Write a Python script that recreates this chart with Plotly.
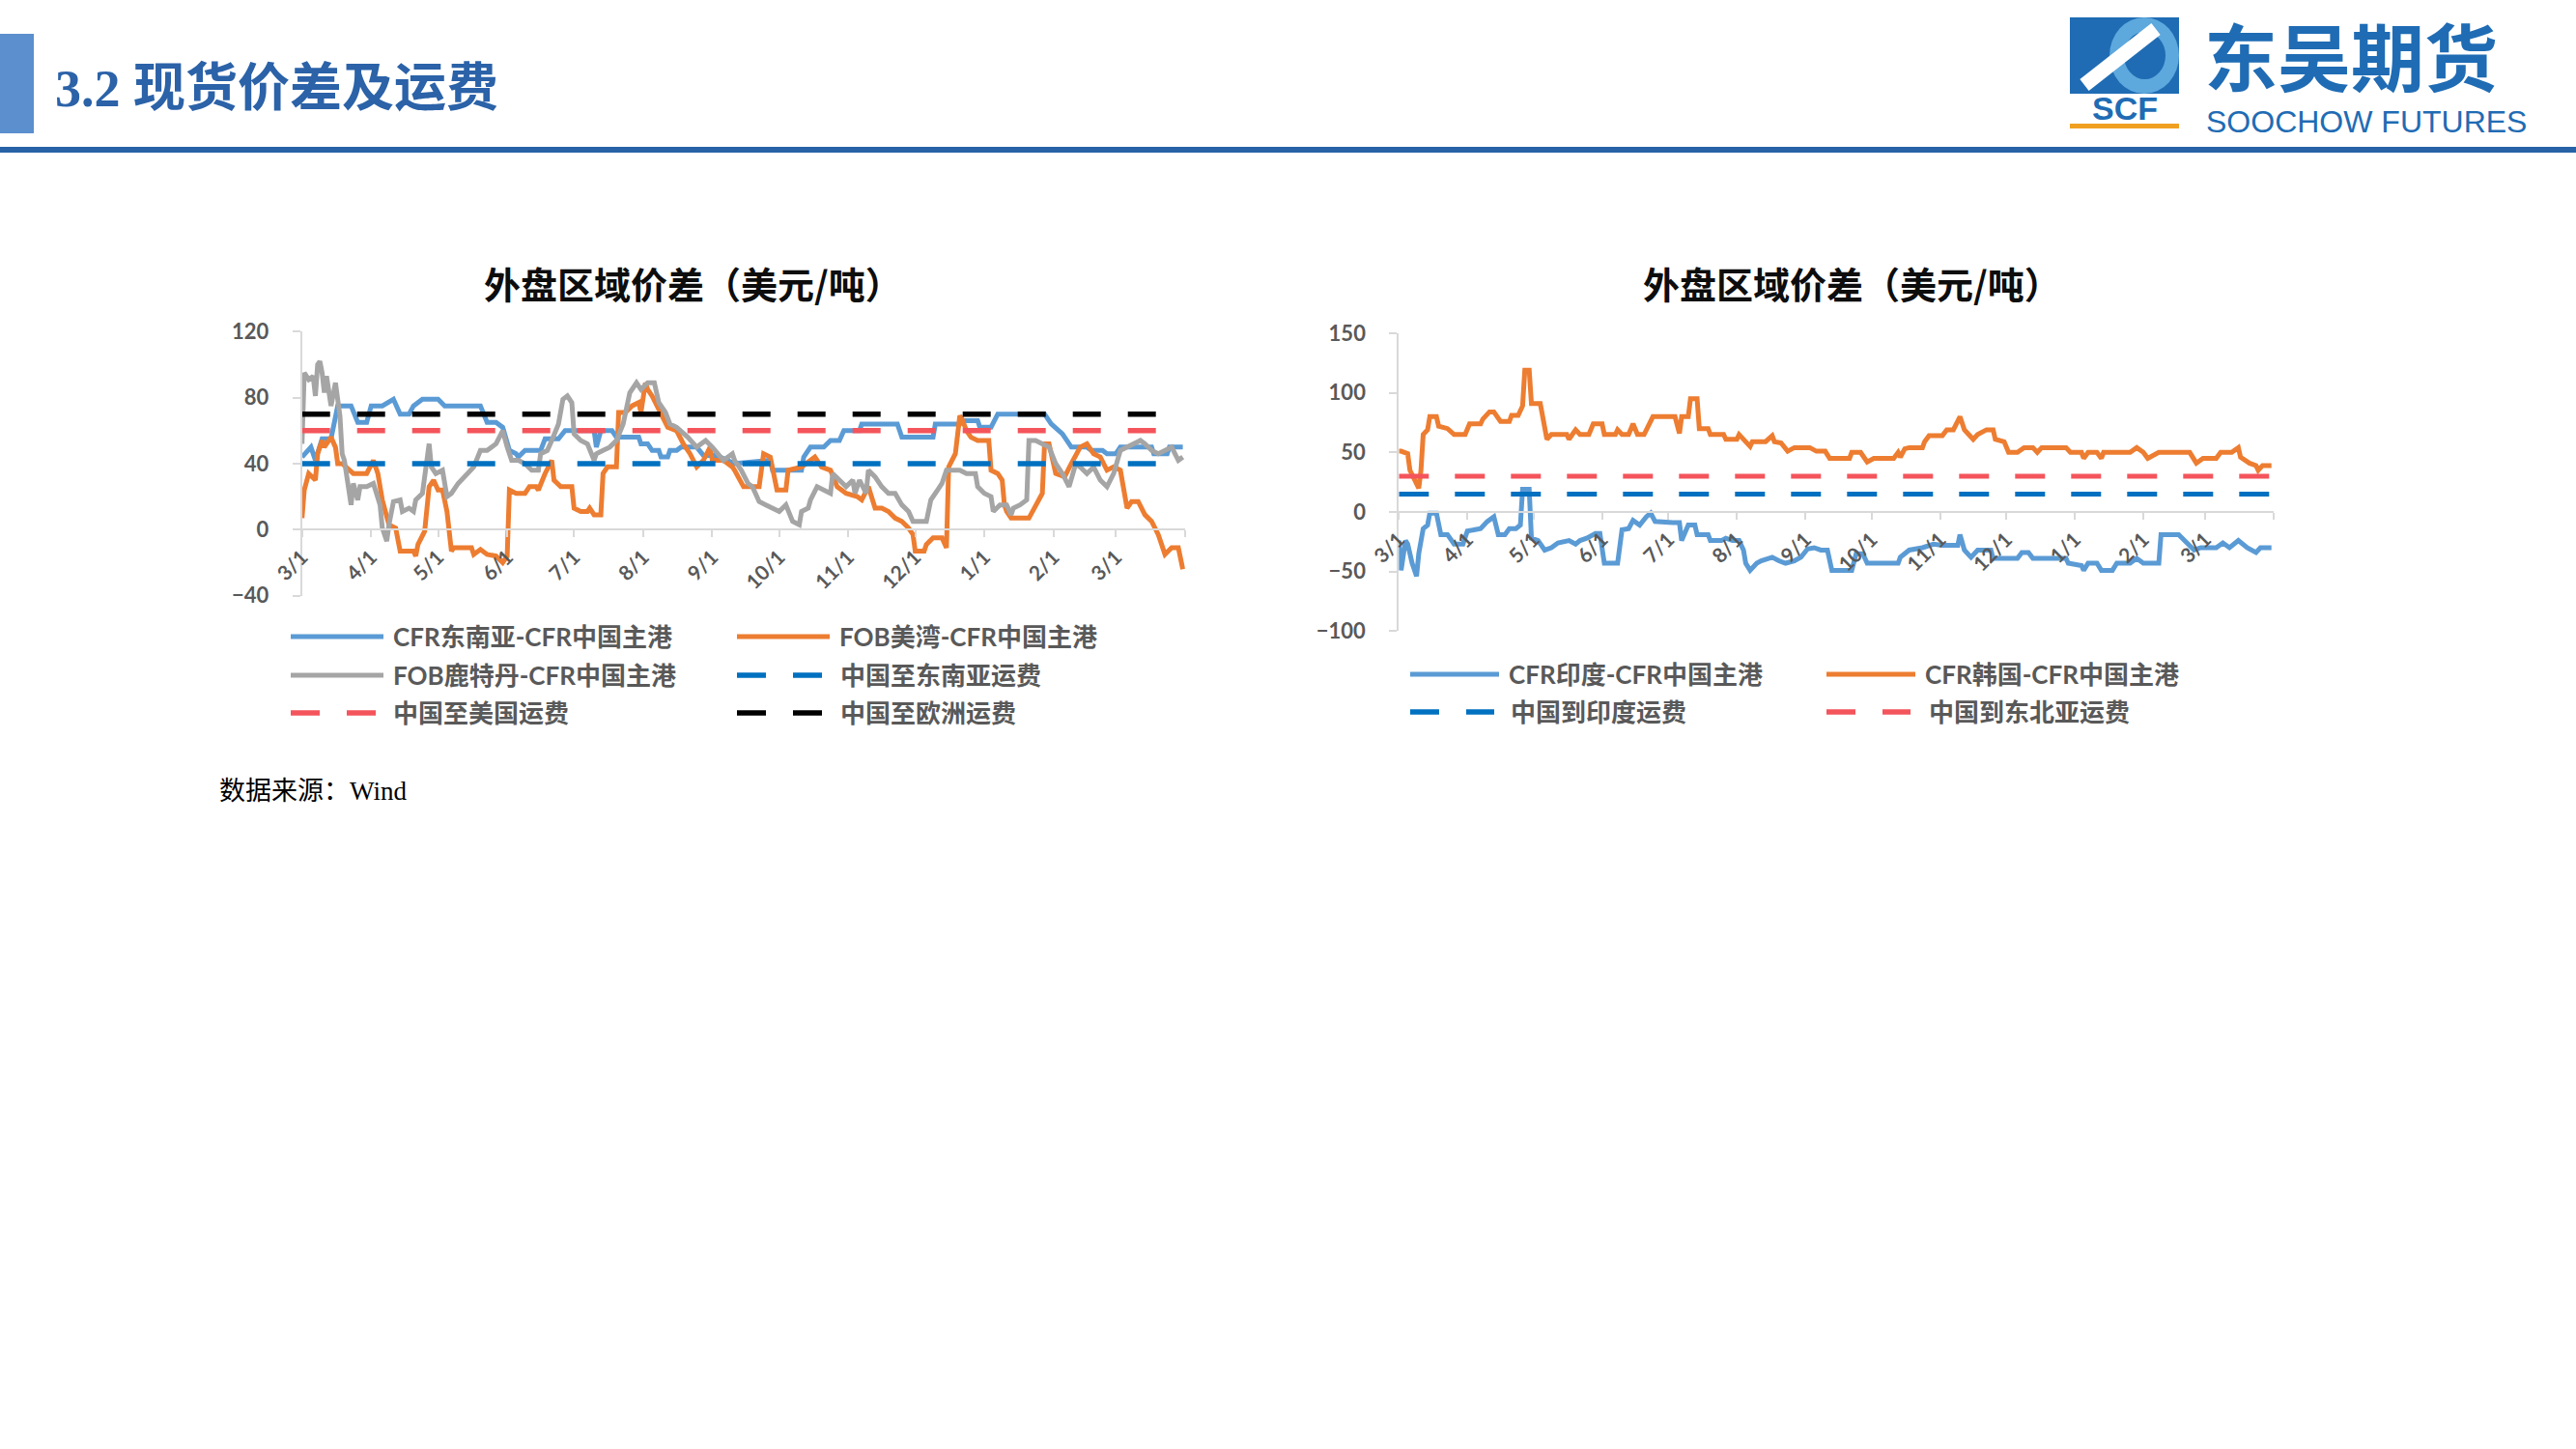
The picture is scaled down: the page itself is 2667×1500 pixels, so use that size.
import plotly.graph_objects as go
import pandas as pd

W, H = 2667, 1500

# ---------------- data ----------------
BASE_DATE = "2022-03-01"
RANGE_END = "2023-04-01"
TICK_DATES = ["2022-03-01", "2022-04-01", "2022-05-01", "2022-06-01", "2022-07-01",
              "2022-08-01", "2022-09-01", "2022-10-01", "2022-11-01", "2022-12-01",
              "2023-01-01", "2023-02-01", "2023-03-01", "2023-04-01"]
TICK_LABELS = ["3/1", "4/1", "5/1", "6/1", "7/1", "8/1", "9/1", "10/1", "11/1",
               "12/1", "1/1", "2/1", "3/1", ""]

# left chart (days since 2022-03-01)
sea_days = [0, 4, 6, 9, 13, 16, 22, 25, 29, 31, 36, 41, 44, 48, 50, 54, 61, 64, 80, 83, 87, 90,
            93, 96, 97, 100, 107, 109, 115, 118, 131, 132, 134, 139, 141, 151, 152, 155, 157,
            160, 161, 164, 165, 168, 170, 177, 180, 186, 194, 210, 211, 224, 225, 228, 234,
            237, 241, 243, 250, 251, 267, 269, 283, 284, 295, 296, 303, 304, 309, 312, 333,
            336, 341, 345, 352, 354, 359, 361, 365, 367, 381, 382, 388, 389, 395]
sea_vals = [44, 50, 42, 55, 55, 75, 75, 65, 65, 75, 75, 79, 70, 70, 75, 79, 79, 75, 75, 65, 65, 62,
            48, 46, 44, 48, 48, 55, 55, 60, 60, 50, 60, 60, 56, 56, 52, 52, 48,
            48, 44, 44, 48, 48, 50, 50, 45, 45, 40, 42, 36, 36, 44, 50, 50,
            54, 54, 60, 60, 64, 64, 56, 56, 64, 64, 66, 66, 62, 62, 70, 70,
            64, 58, 50, 50, 48, 48, 46, 46, 50, 50, 46, 46, 50, 50]

usg_days = [0, 1, 3, 6, 7, 9, 10, 13, 15, 16, 18, 23, 29, 32, 34, 36, 39, 42, 44, 50, 51, 52, 55,
            57, 59, 61, 63, 65, 67, 68, 76, 77, 80, 83, 87, 90, 92, 93, 96, 100, 102, 105, 106,
            109, 112, 113, 116, 121, 122, 125, 128, 129, 131, 134, 135, 137, 141, 142, 145, 148,
            151, 152, 154, 155, 157, 161, 164, 168, 171, 174, 177, 180, 183, 184, 189, 193, 194,
            198, 205, 207, 210, 213, 217, 218, 224, 228, 230, 233, 237, 240, 244, 249, 251, 254,
            257, 260, 263, 266, 269, 272, 274, 275, 279, 280, 283, 287, 289, 290, 292, 293, 295,
            296, 298, 300, 303, 308, 309, 312, 314, 315, 316, 318, 326, 329, 332, 333, 335, 338,
            342, 345, 349, 352, 355, 358, 361, 364, 367, 370, 372, 375, 378, 381, 384, 387, 390,
            393, 395]
usg_vals = [7, 24, 34, 30, 46, 54, 50, 56, 50, 40, 40, 34, 34, 42, 34, 18, 3, 1, -13, -13, -16, -9, -1,
            26, 30, 24, 24, 11, -13, -11, -11, -15, -12, -15, -16, -20, -16, 24, 22, 22, 26, 26, 24,
            34, 42, 30, 26, 26, 13, 11, 11, 13, 9, 9, 34, 38, 38, 71, 71, 75,
            77, 71, 89, 85, 81, 71, 62, 60, 52, 46, 38, 42, 50, 42, 42, 38, 36,
            26, 26, 46, 44, 24, 24, 36, 38, 42, 44, 38, 36, 26, 22, 20, 18, 26,
            13, 13, 11, 7, 5, 1, -3, -13, -13, -9, -5, -5, -11, 38, 44, 46, 69,
            67, 60, 56, 54, 54, 36, 34, 30, 15, 11, 7, 7, 15, 22, 52, 52, 34,
            32, 40, 50, 52, 46, 44, 36, 38, 36, 13, 17, 17, 9, 5, -3, -15, -11,
            -11, -24]

rtm_days = [0, 1, 3, 5, 6, 7, 8, 9, 10, 11, 13, 15, 17, 18, 19, 21, 22, 23, 25, 26, 29, 32, 35, 36,
            38, 39, 41, 44, 45, 48, 50, 51, 54, 57, 58, 60, 63, 65, 67, 70, 73, 77, 80, 83, 87, 90,
            92, 94, 97, 100, 103, 106, 107, 110, 112, 115, 117, 119, 121, 122, 125, 128, 131, 132,
            135, 138, 141, 144, 147, 150, 152, 155, 158, 160, 163, 165, 168, 173, 177, 181, 184,
            189, 193, 194, 197, 200, 202, 205, 208, 211, 214, 217, 220, 223, 224, 227, 228, 231,
            234, 237, 238, 241, 244, 247, 248, 250, 253, 254, 257, 260, 263, 266, 269, 272, 274,
            280, 282, 285, 287, 289, 295, 298, 302, 303, 306, 309, 310, 313, 316, 318, 319, 322,
            325, 326, 329, 332, 335, 338, 341, 344, 347, 349, 352, 355, 358, 361, 364, 367, 370,
            376, 378, 381, 384, 387, 390, 393, 395]
rtm_vals = [52, 95, 91, 93, 81, 100, 102, 95, 83, 93, 75, 89, 69, 46, 42, 24, 15, 28, 18, 26, 26, 28, 15, 1,
            -7, 3, 17, 18, 11, 13, 11, 18, 22, 52, 38, 34, 36, 20, 22, 28, 32, 38, 48, 48, 52, 60,
            50, 42, 42, 40, 36, 36, 46, 48, 54, 64, 79, 81, 77, 58, 54, 52, 42, 46,
            48, 50, 54, 64, 83, 89, 85, 89, 89, 77, 71, 64, 62, 56, 50, 54, 50,
            42, 46, 42, 36, 28, 26, 17, 15, 13, 11, 15, 5, 3, 11, 13, 18, 26,
            24, 22, 34, 30, 26, 30, 22, 30, 22, 36, 32, 26, 22, 22, 15, 11, 5,
            5, 18, 24, 28, 36, 36, 34, 34, 26, 22, 20, 11, 15, 15, 9, 13, 15,
            18, 54, 54, 52, 50, 40, 34, 26, 40, 38, 34, 38, 30, 26, 34, 48, 50,
            54, 52, 48, 46, 48, 50, 42, 44]

FREIGHT_DAYS = [0, 395]
freight_sea = [40, 40]
freight_us = [60, 60]
freight_eu = [70, 70]

# right chart
ind_days = [0, 1, 3, 4, 6, 8, 9, 11, 13, 14, 17, 19, 22, 25, 29, 31, 37, 40, 43, 45, 48, 50, 53, 55,
            56, 59, 60, 63, 66, 69, 72, 77, 80, 82, 85, 89, 91, 93, 99, 101, 104, 106, 109, 112,
            114, 116, 124, 127, 128, 131, 134, 135, 140, 141, 146, 148, 151, 154, 156, 157, 159,
            162, 164, 169, 172, 175, 179, 182, 185, 188, 191, 194, 196, 205, 207, 210, 212, 226,
            227, 231, 237, 242, 246, 253, 254, 256, 259, 262, 268, 269, 280, 282, 285, 287, 302,
            303, 309, 310, 312, 316, 318, 323, 325, 331, 334, 337, 344, 345, 353, 356, 360, 363,
            370, 373, 376, 380, 384, 388, 390, 395]
ind_vals = [-24, -49, -24, -27, -43, -54, -35, -14, -11, -1, -1, -19, -19, -27, -27, -16, -14, -8, -4, -19, -19, -14, -14, -11,
            19, 19, -22, -24, -32, -30, -26, -24, -27, -24, -22, -18, -18, -43, -43, -15, -14, -7, -11, -4,
            -1, -8, -9, -9, -24, -11, -11, -19, -19, -24, -24, -22, -24, -24, -32, -43, -49,
            -43, -41, -38, -41, -43, -41, -38, -31, -30, -32, -32, -49, -49, -35, -35, -43, -43,
            -38, -32, -30, -27, -28, -28, -19, -32, -38, -32, -32, -39, -39, -34, -34, -39, -39,
            -43, -45, -49, -43, -43, -49, -49, -43, -43, -39, -43, -43, -19, -19, -24, -32, -30,
            -30, -26, -30, -24, -30, -34, -30, -30]

kor_days = [0, 1, 4, 5, 9, 10, 11, 13, 14, 17, 18, 22, 25, 30, 32, 37, 38, 41, 43, 46, 50, 51, 54, 56,
            57, 59, 60, 64, 67, 69, 76, 77, 80, 82, 86, 88, 92, 93, 98, 99, 101, 104, 106, 108,
            111, 115, 125, 127, 128, 131, 132, 135, 136, 140, 141, 147, 148, 153, 154, 156, 159,
            160, 166, 169, 170, 173, 176, 179, 186, 189, 193, 195, 204, 205, 209, 212, 215, 224,
            226, 227, 229, 231, 237, 238, 240, 246, 248, 251, 254, 256, 258, 260, 262, 266, 269,
            270, 274, 276, 280, 283, 287, 289, 291, 302, 304, 309, 310, 312, 316, 318, 319, 331,
            334, 337, 339, 344, 358, 361, 364, 370, 372, 377, 380, 381, 385, 388, 389, 391, 395]
kor_vals = [51, 51, 49, 35, 20, 35, 65, 69, 80, 80, 72, 70, 65, 65, 74, 74, 78, 84, 84, 76, 76, 81, 81, 89,
            119, 119, 91, 91, 61, 65, 65, 61, 69, 65, 65, 74, 74, 65, 65, 69, 65, 65, 74, 65,
            65, 80, 80, 66, 80, 80, 95, 95, 70, 70, 65, 65, 61, 61, 65, 61, 55,
            59, 59, 64, 59, 58, 51, 54, 54, 51, 51, 45, 45, 50, 50, 42, 45, 45,
            50, 46, 53, 54, 54, 59, 64, 64, 69, 69, 80, 69, 65, 61, 65, 69, 69,
            61, 59, 50, 50, 54, 54, 50, 54, 54, 50, 50, 45, 50, 50, 45, 50, 50,
            54, 50, 45, 50, 50, 41, 45, 45, 50, 50, 54, 46, 41, 39, 35, 39, 39]

freight_ind = [15, 15]
freight_nea = [30, 30]

# ---------------- helpers ----------------
base = pd.Timestamp(BASE_DATE)


def to_dates(days):
    return base + pd.to_timedelta(days, unit="D")


def fx(px):
    return px / W


def fy(py):
    return 1 - py / H


LATIN_CJK = "Lato, 'Noto Sans CJK SC', sans-serif"
GRAY_TXT = "#595959"
AX_GRAY = "#D9D9D9"

BLUE = "#5B9BD5"
ORANGE = "#ED7D31"
GRAY = "#A5A5A5"
DBLUE = "#0070C0"
RED = "#F4545B"
BLACK = "#000000"

fig = go.Figure()

left_series = [
    (sea_days, sea_vals, BLUE, None, 5),
    (usg_days, usg_vals, ORANGE, None, 5),
    (rtm_days, rtm_vals, GRAY, None, 5),
    (FREIGHT_DAYS, freight_sea, DBLUE, "29px,28px", 5.5),
    (FREIGHT_DAYS, freight_us, RED, "29px,28px", 5.5),
    (FREIGHT_DAYS, freight_eu, BLACK, "29px,28px", 5.5),
]
for d, v, c, dash, w in left_series:
    fig.add_trace(go.Scatter(x=to_dates(d), y=v, mode="lines",
                             line=dict(color=c, width=w, dash=dash),
                             xaxis="x", yaxis="y", showlegend=False, hoverinfo="skip"))

right_series = [
    (ind_days, ind_vals, BLUE, None, 5),
    (kor_days, kor_vals, ORANGE, None, 5),
    (FREIGHT_DAYS, freight_ind, DBLUE, "31px,27px", 5),
    (FREIGHT_DAYS, freight_nea, RED, "31px,27px", 5),
]
for d, v, c, dash, w in right_series:
    fig.add_trace(go.Scatter(x=to_dates(d), y=v, mode="lines",
                             line=dict(color=c, width=w, dash=dash),
                             xaxis="x2", yaxis="y2", showlegend=False, hoverinfo="skip"))

# axes geometry (pixels)
L_X0, L_X1 = 312.7, 1226.9
L_Y0, L_Y1 = 343.3, 616.6   # top (120), bottom (-40)
R_X0, R_X1 = 1448.3, 2354.0
R_Y0, R_Y1 = 345.0, 653.3   # top (150), bottom (-100)

L_RANGE = [-40, 120]
R_RANGE = [-100, 150]


def zero_pos(y0, y1, rng):
    dom0, dom1 = fy(y1), fy(y0)
    return dom0 + (dom1 - dom0) * (0 - rng[0]) / (rng[1] - rng[0])


tickfont = dict(family=LATIN_CJK, size=21, color=GRAY_TXT, weight="bold")

xcommon = dict(type="date", range=[BASE_DATE, RANGE_END], anchor="free", automargin=False,
               showline=True, linecolor=AX_GRAY, linewidth=2,
               ticks="outside", ticklen=7, tickwidth=2, tickcolor=AX_GRAY,
               tickvals=TICK_DATES, ticktext=TICK_LABELS, tickangle=-45,
               tickfont=tickfont, showgrid=False, zeroline=False, fixedrange=True)
ycommon = dict(showline=True, linecolor=AX_GRAY, linewidth=2, automargin=False,
               ticks="outside", ticklen=8, tickwidth=2, tickcolor=AX_GRAY,
               tickfont=dict(family=LATIN_CJK, size=22, color=GRAY_TXT, weight="bold"),
               showgrid=False, zeroline=False, ticklabelstandoff=20, fixedrange=True)

fig.update_layout(
    width=W, height=H, autosize=False,
    margin=dict(l=0, r=0, t=0, b=0, pad=0, autoexpand=False),
    paper_bgcolor="white", plot_bgcolor="rgba(0,0,0,0)",
    showlegend=False,
    xaxis=dict(domain=[fx(L_X0), fx(L_X1)], position=zero_pos(L_Y0, L_Y1, L_RANGE), **xcommon),
    yaxis=dict(domain=[fy(L_Y1), fy(L_Y0)], range=L_RANGE,
               tickvals=[-40, 0, 40, 80, 120], anchor="x", **ycommon),
    xaxis2=dict(domain=[fx(R_X0), fx(R_X1)], position=zero_pos(R_Y0, R_Y1, R_RANGE), **xcommon),
    yaxis2=dict(domain=[fy(R_Y1), fy(R_Y0)], range=R_RANGE,
                tickvals=[-100, -50, 0, 50, 100, 150], anchor="x2", **ycommon),
)

shapes = []
annotations = []


def rect(x0, y0, x1, y1, color):
    shapes.append(dict(type="rect", xref="paper", yref="paper",
                       x0=fx(x0), x1=fx(x1), y0=fy(y1), y1=fy(y0),
                       fillcolor=color, line=dict(width=0), layer="above"))


def seg(x0, y0, x1, y1, color, width, dash="solid"):
    shapes.append(dict(type="line", xref="paper", yref="paper",
                       x0=fx(x0), x1=fx(x1), y0=fy(y0), y1=fy(y1),
                       line=dict(color=color, width=width, dash=dash), layer="above"))


def ellipse(x0, y0, x1, y1, color):
    shapes.append(dict(type="circle", xref="paper", yref="paper",
                       x0=fx(x0), x1=fx(x1), y0=fy(y1), y1=fy(y0),
                       fillcolor=color, line=dict(width=0), layer="above"))


def text(x, y, s, size, color, family, weight="normal", xanchor="left", pad=1):
    annotations.append(dict(xref="paper", yref="paper", x=fx(x), y=fy(y), text=s,
                            showarrow=False, xanchor=xanchor, yanchor="middle", borderpad=pad,
                            font=dict(size=size, color=color, family=family, weight=weight)))


# ---------------- header ----------------
rect(0, 35, 35, 138, "#5B8FCE")
text(55, 92, "3.2 现货价差及运费", 54, "#2B62A8", "'Liberation Serif', 'Noto Sans CJK SC', serif", "bold")
rect(0, 152, W, 158, "#2862A6")

# logo
LOGO_BLUE = "#1F6CB4"
rect(2143, 18, 2256, 97, LOGO_BLUE)
ellipse(2184, 18, 2256, 97, "#5DA8DD")
ellipse(2199, 33, 2242, 82, LOGO_BLUE)
seg(2158, 88, 2232, 30, "white", 15)
rect(2143, 128, 2256, 133, "#F0A020")
text(2199.5, 112, "SCF", 34, LOGO_BLUE, "'Liberation Sans', Arial, sans-serif", "bold", "center", 0)
text(2281, 56, "东吴期货", 76, LOGO_BLUE, "'Noto Sans CJK SC', sans-serif", "bold", "left", 0)
text(2283, 126, "SOOCHOW FUTURES", 32, LOGO_BLUE, "'Liberation Sans', Arial, sans-serif", "normal", "left", 0)

# ---------------- chart titles ----------------
TITLE_FONT = "'Noto Sans CJK SC', sans-serif"
text(717, 292, "外盘区域价差（美元/吨）", 38, "#0D0D0D", TITLE_FONT, "bold", "center")
text(1917, 292, "外盘区域价差（美元/吨）", 38, "#0D0D0D", TITLE_FONT, "bold", "center")

# ---------------- legends ----------------
LEG_FONT = 26


def legend_solid(x0, x1, y, color, label):
    seg(x0, y, x1, y, color, 5)
    text(x1 + 8, y, label, LEG_FONT, GRAY_TXT, LATIN_CJK, "bold")


def legend_dash(x0, x1, y, color, label, tx):
    seg(x0, y, x1, y, color, 5.5, "30px,28px")
    text(tx, y, label, LEG_FONT, GRAY_TXT, LATIN_CJK, "bold")


legend_solid(301, 397, 659, BLUE, "CFR东南亚-CFR中国主港")
legend_solid(763, 859, 659, ORANGE, "FOB美湾-CFR中国主港")
legend_solid(301, 397, 699, GRAY, "FOB鹿特丹-CFR中国主港")
legend_dash(763, 853, 699, DBLUE, "中国至东南亚运费", 868)
legend_dash(301, 391, 738, RED, "中国至美国运费", 405)
legend_dash(763, 853, 738, BLACK, "中国至欧洲运费", 868)

legend_solid(1460, 1552, 698, BLUE, "CFR印度-CFR中国主港")
legend_solid(1891, 1983, 698, ORANGE, "CFR韩国-CFR中国主港")
legend_dash(1460, 1547, 737, DBLUE, "中国到印度运费", 1562)
legend_dash(1891, 1978, 737, RED, "中国到东北亚运费", 1995)

# ---------------- source ----------------
text(225, 819, "数据来源：Wind", 27, "#000000", "'Liberation Serif', 'Noto Sans CJK SC', serif")

fig.update_layout(shapes=shapes, annotations=annotations)

fig.write_html("out.html", config={"displayModeBar": False},
               post_script="document.body.style.margin='0';document.body.style.overflow='hidden';")
